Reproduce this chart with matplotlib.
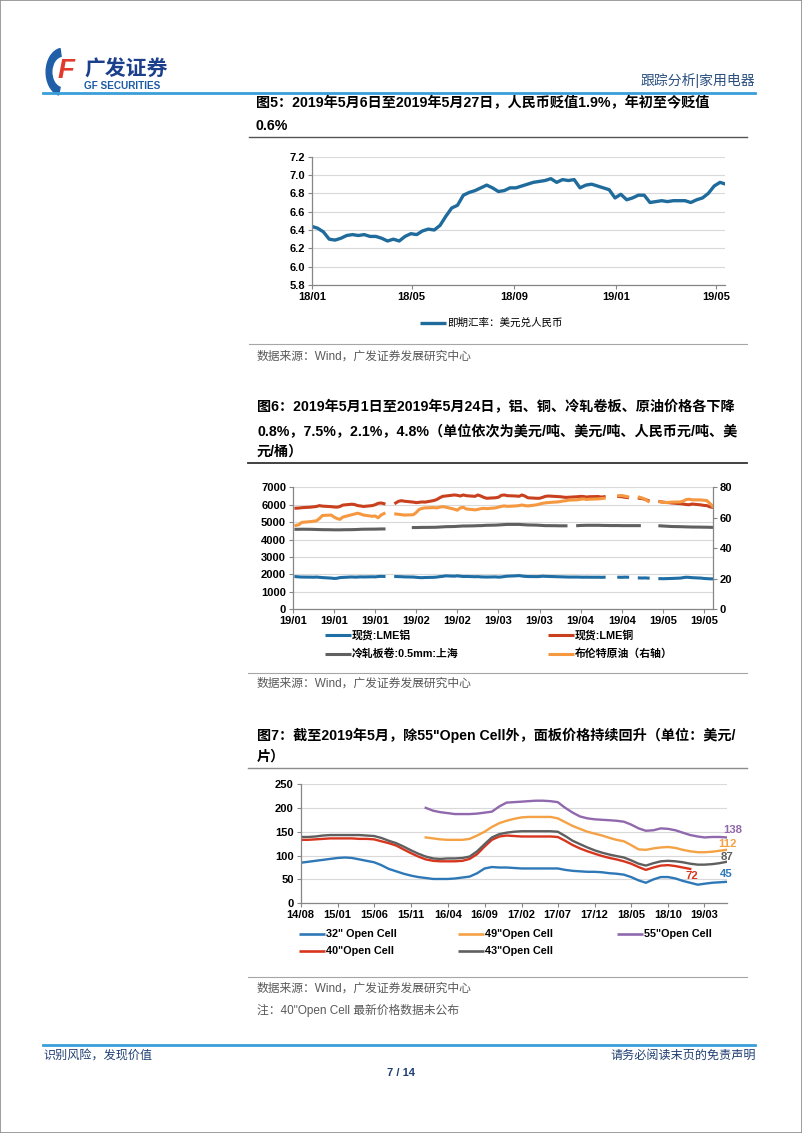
import matplotlib
matplotlib.use('Agg')
import matplotlib.pyplot as plt
import matplotlib.dates as mdates
from matplotlib.lines import Line2D
from matplotlib.patches import Rectangle, Wedge
import numpy as np
import pandas as pd

plt.rcParams['font.family'] = ['Liberation Sans', 'Noto Sans CJK SC', 'DejaVu Sans']
nan = np.nan

# ---------------- data: Fig 5 (USD/CNY spot, weekly readings) ----------------
fx_dates = pd.date_range('2018-01-01', periods=72, freq='7D')
fx_rate = [6.44, 6.42, 6.38, 6.30, 6.29, 6.31, 6.34, 6.35, 6.34, 6.35,
           6.33, 6.33, 6.31, 6.28, 6.30, 6.28, 6.33, 6.36, 6.35, 6.39,
           6.41, 6.40, 6.45, 6.55, 6.64, 6.67, 6.78, 6.81, 6.83, 6.86,
           6.89, 6.86, 6.82, 6.83, 6.86, 6.86, 6.88, 6.90, 6.92, 6.93,
           6.94, 6.96, 6.92, 6.95, 6.94, 6.95, 6.86, 6.89, 6.90, 6.88,
           6.86, 6.84, 6.75, 6.79, 6.73, 6.75, 6.78, 6.78, 6.70, 6.71,
           6.72, 6.71, 6.72, 6.72, 6.72, 6.70, 6.73, 6.75, 6.80, 6.88,
           6.92, 6.90]
fx_ticks = ['2018-01-01', '2018-05-01', '2018-09-01', '2019-01-01', '2019-05-01']

# ---------------- data: Fig 6 (commodities, business days) ----------------
cm_dates = pd.bdate_range('2019-01-02', '2019-05-24')
lme_al = [1875, 1860, 1850,
          1845, 1840, 1850, 1835, 1820,
          1790, 1770, 1780, 1820, 1830,
          1855, 1845, 1850, 1860, 1855,
          1865, 1860, 1880, 1890, 1885,
          nan, 1880, 1875, 1870, 1860,
          1850, 1835, 1820, 1815, 1825,
          1835, 1850, 1875, 1890, 1920,
          1900, 1920, 1900, 1880, 1885,
          1870, 1875, 1860, 1855, 1850,
          1860, 1845, 1855, 1880, 1900,
          1920, 1935, 1910, 1890, 1880,
          1875, 1880, 1900, 1890, 1885,
          1870, 1865, 1860, 1855, 1850,
          1850, 1845, 1840, 1845, 1840,
          1840, 1835, 1840, nan, nan,
          1840, 1835, 1845, 1840, nan,
          1800, 1795, 1800, 1790, nan,
          1760, 1755, 1760, 1765, 1770,
          1790, 1820, 1840, 1830, 1815,
          1790, 1770, 1760, 1750, 1745]
lme_cu = [5800, 5810, 5830,
          5860, 5880, 5900, 5950, 5920,
          5890, 5870, 5860, 5900, 5980,
          6030, 6010, 5950, 5930, 5900,
          5950, 6000, 6080, 6100, 6060,
          nan, 6100, 6200, 6230, 6200,
          6150, 6120, 6140, 6160, 6150,
          6240, 6300, 6400, 6480, 6500,
          6560, 6540, 6500, 6560, 6520,
          6480, 6560, 6500, 6420, 6370,
          6400, 6430, 6540, 6560, 6520,
          6500, 6480, 6560, 6500, 6400,
          6370, 6370, 6420, 6480, 6500,
          6470, 6460, 6440, 6420, 6430,
          6460, 6480, 6470, 6440, 6460,
          6470, 6440, 6460, nan, nan,
          6470, 6460, 6430, 6410, nan,
          6370, 6350, 6300, 6240, nan,
          6180, 6150, 6130, 6120, 6100,
          6060, 6040, 6010, 6000, 6040,
          5990, 5960, 5950, 5880, 5850]
cold_roll = [4590, 4590, 4595,
             4590, 4585, 4580, 4575, 4570,
             4565, 4560, 4560, 4560, 4565,
             4570, 4575, 4580, 4590, 4595,
             4600, 4600, 4605, 4610, 4610,
             nan, nan, nan, nan, nan,
             4690, 4690, 4695, 4700, 4700,
             4705, 4710, 4720, 4730, 4740,
             4750, 4760, 4770, 4780, 4780,
             4790, 4800, 4800, 4810, 4820,
             4830, 4840, 4850, 4860, 4870,
             4870, 4870, 4860, 4850, 4840,
             4830, 4820, 4810, 4800, 4800,
             4795, 4790, 4790, 4790, nan,
             4800, 4810, 4815, 4820, 4820,
             4820, 4815, 4810, 4810, 4805,
             4805, 4800, 4800, 4800, 4800,
             4800, nan, nan, nan, nan,
             4790, 4780, 4770, 4760, 4750,
             4740, 4735, 4730, 4725, 4720,
             4715, 4710, 4710, 4705, 4700]
brent = [55.0, 55.5, 57.0,
         57.5, 57.8, 58.0, 59.5, 61.5,
         61.8, 60.5, 59.5, 59.0, 60.5,
         62.0, 62.5, 63.0, 62.5, 61.8,
         61.0, 61.2, 60.0, 61.8, 62.8,
         nan, 62.5, 62.3, 62.0, 61.8,
         62.0, 63.5, 65.5, 66.2, 66.5,
         66.7, 66.5, 67.0, 67.3, 67.0,
         65.6, 65.0, 66.5, 66.9, 65.8,
         65.2, 65.5, 66.0, 66.2, 66.0,
         66.5, 67.0, 67.5, 67.8, 67.5,
         67.8, 68.0, 68.4, 68.0, 67.8,
         68.5, 69.0, 69.5, 69.8, 70.0,
         70.4, 70.6, 71.0, 71.2, 71.6,
         71.8, 72.2, 72.4, 72.0, 72.2,
         72.4, 72.6, 72.8, nan, nan,
         74.5, 74.6, 74.2, 73.8, nan,
         73.5, 73.0, 72.0, 70.8, nan,
         70.5, 70.2, 70.0, 70.1, 70.3,
         70.4, 71.0, 72.0, 72.2, 71.8,
         71.7, 71.5, 71.3, 69.5, 67.5]
cm_names = ['现货:LME铝', '现货:LME铜', '冷轧板卷:0.5mm:上海', '布伦特原油（右轴）']

# ---------------- data: Fig 7 (panel prices, monthly) ----------------
pn_months = pd.date_range('2014-08-01', periods=59, freq='MS')
p32 = [85, 87, 89, 91, 93, 95, 96, 95, 92, 89,
       86, 80, 72, 67, 62, 58, 55, 53, 51, 51,
       51, 52, 54, 56, 63, 73, 76, 75, 75, 74,
       73, 73, 73, 73, 73, 73, 70, 68, 67, 66,
       66, 65, 63, 62, 60, 55, 48, 43, 50, 55,
       55, 52, 47, 43, 39, 41, 43, 44, 45]
p40 = [133, 133, 134, 135, 136, 136, 136, 136, 135, 135,
       134, 130, 126, 121, 113, 105, 98, 92, 89, 88,
       88, 88, 89, 93, 103, 119, 133, 140, 142, 141,
       140, 140, 140, 140, 140, 139, 131, 122, 115, 109,
       104, 99, 95, 92, 88, 83, 76, 70, 75, 79,
       80, 78, 75, 72, nan, nan, nan, nan, nan]
p43 = [139, 139, 140, 142, 143, 143, 143, 143, 143, 142,
       141, 137, 131, 126, 119, 111, 104, 98, 94, 93,
       94, 94, 95, 98, 109, 124, 138, 145, 148, 150,
       151, 151, 151, 151, 151, 150, 141, 131, 124, 117,
       111, 106, 102, 99, 96, 90, 83, 79, 84, 88,
       89, 88, 86, 83, 81, 81, 82, 84, 87]
p49 = [nan] * 17 + [138, 136, 134, 133, 133, 133, 135, 142, 150, 160,
                    168, 173, 177, 180, 181, 181, 181, 181, 178, 170,
                    162, 156, 150, 146, 142, 137, 133, 130, 122, 113,
                    112, 115, 117, 118, 116, 112, 109, 107, 107, 108,
                    110, 112]
p55 = [nan] * 17 + [200, 194, 191, 189, 187, 187, 187, 188, 190, 192,
                    203, 211, 212, 213, 214, 215, 215, 214, 212, 200,
                    190, 182, 178, 176, 175, 174, 173, 171, 165, 157,
                    152, 153, 157, 156, 153, 148, 143, 140, 138, 139,
                    139, 138]
pn_names = ['32" Open Cell', '49"Open Cell', '55"Open Cell', '40"Open Cell', '43"Open Cell']

# ---------------- figure helpers ----------------
W, H = 802, 1133
fig = plt.figure(figsize=(W / 100, H / 100), dpi=100)
TICK_FS = 8
LEG_FS = 7.8
TITLE_FS = 10.2


def fx(x):
    return x / W


def fy(y):
    return 1 - y / H


def axes_px(l, t, r, b):
    return fig.add_axes([fx(l), fy(b), fx(r - l), (b - t) / H])


def hline(y, x0, x1, color, lw):
    fig.add_artist(Line2D([fx(x0), fx(x1)], [fy(y), fy(y)], color=color, lw=lw))


def txt(x, y, s, **kw):
    kw.setdefault('va', 'center')
    fig.text(fx(x), fy(y), s, **kw)


def legend_item(x, y, color, label, lw=2.2, bold=True, size=LEG_FS, hl=26):
    fig.add_artist(Line2D([fx(x), fx(x + hl)], [fy(y), fy(y)], color=color, lw=lw,
                          solid_capstyle='butt'))
    txt(x + hl + 1, y, label, fontsize=size, fontweight='bold' if bold else 'normal',
        color='black')


def style_axes(ax, spine_col='#868686'):
    for s in ['top', 'right']:
        ax.spines[s].set_visible(False)
    for s in ['left', 'bottom']:
        ax.spines[s].set_color(spine_col)
        ax.spines[s].set_linewidth(0.9)
    ax.grid(axis='y', color='#d9d9d9', lw=0.8)
    ax.set_axisbelow(True)
    ax.tick_params(axis='both', labelsize=TICK_FS, length=3, width=0.8, color=spine_col, pad=2)
    for lab in ax.get_xticklabels() + ax.get_yticklabels():
        lab.set_fontweight('bold')


# page border
fig.add_artist(Rectangle((0, 0), 1, 1, transform=fig.transFigure, fill=False,
                         edgecolor='#8c8c8c', lw=1.2))

# ---------------- header ----------------
fig.add_artist(Wedge((fx(63), fy(72)), 0.021, 100, 255, width=0.007,
                     transform=fig.transFigure, color='#1f5fa8'))
txt(66, 71, 'F', fontsize=20, fontweight='bold', fontstyle='italic', color='#e2392d',
    ha='center', family=['Liberation Sans'])
txt(84, 70, '广发证券', fontsize=15, fontweight='bold', color='#1c3f8c', ha='left')
txt(84, 86, 'GF SECURITIES', fontsize=7.2, fontweight='bold', color='#1c5aa6', ha='left')
txt(755, 81, '跟踪分析|家用电器', fontsize=10, color='#2a4f80', ha='right')
hline(92.5, 43, 755, '#3a9fd8', 2.0)

# ---------------- Fig 5 ----------------
txt(256, 103, '图5：2019年5月6日至2019年5月27日，人民币贬值1.9%，年初至今贬值',
    fontsize=TITLE_FS, fontweight='bold', ha='left')
txt(256, 126, '0.6%', fontsize=TITLE_FS, fontweight='bold', ha='left')
hline(137.5, 249, 747, '#555555', 1.0)

ax1 = axes_px(311.7, 156.7, 725, 285)
ax1.plot(fx_dates, fx_rate, color='#1f6b9c', lw=2.4)
ax1.set_ylim(5.8, 7.2)
ax1.set_yticks(np.arange(5.8, 7.21, 0.2))
ax1.yaxis.set_major_formatter(matplotlib.ticker.FormatStrFormatter('%.1f'))
ax1.set_xlim(fx_dates[0], pd.Timestamp('2019-05-12'))
ax1.set_xticks(pd.to_datetime(fx_ticks))
ax1.xaxis.set_major_formatter(mdates.DateFormatter('%y/%m'))
style_axes(ax1)
legend_item(420, 322.7, '#1f6b9c', '即期汇率：美元兑人民币', lw=2.4, bold=False, size=7.6)
hline(344, 249, 747, '#a6a6a6', 0.8)
txt(257, 357, '数据来源：Wind，广发证券发展研究中心', fontsize=8.5, color='#595959', ha='left')

# ---------------- Fig 6 ----------------
txt(257, 406.7, '图6：2019年5月1日至2019年5月24日，铝、铜、冷轧卷板、原油价格各下降',
    fontsize=TITLE_FS, fontweight='bold', ha='left')
txt(257, 431.7, '0.8%，7.5%，2.1%，4.8%（单位依次为美元/吨、美元/吨、人民币元/吨、美',
    fontsize=TITLE_FS, fontweight='bold', ha='left')
txt(257, 451.7, '元/桶）', fontsize=TITLE_FS, fontweight='bold', ha='left')
hline(463, 248, 747, '#333333', 1.3)

ax2 = axes_px(293, 487.3, 712.7, 609.3)
c_al, c_cu, c_cr, c_br = '#1f6ea5', '#c8401e', '#606060', '#f59840'
ax2.plot(cm_dates, lme_al, color=c_al, lw=2.2)
ax2.plot(cm_dates, lme_cu, color=c_cu, lw=2.2)
ax2.plot(cm_dates, cold_roll, color=c_cr, lw=2.2)
ax2.set_ylim(0, 7000)
ax2.set_yticks(range(0, 7001, 1000))
x0, x1 = pd.Timestamp('2019-01-01'), pd.Timestamp('2019-05-24')
ax2.set_xlim(x0, x1)
ax2.set_xticks(pd.date_range(x0, periods=11, freq='14D'))
ax2.xaxis.set_major_formatter(mdates.DateFormatter('%y/%m'))
style_axes(ax2)
ax2r = ax2.twinx()
ax2r.plot(cm_dates, brent, color=c_br, lw=2.2)
ax2r.set_ylim(0, 80)
ax2r.set_yticks(range(0, 81, 20))
for s in ['top', 'left', 'bottom']:
    ax2r.spines[s].set_visible(False)
ax2r.spines['right'].set_color('#868686')
ax2r.spines['right'].set_linewidth(0.9)
ax2r.tick_params(axis='y', labelsize=TICK_FS, length=3, width=0.8, color='#868686', pad=2)
for lab in ax2r.get_yticklabels():
    lab.set_fontweight('bold')
legend_item(325, 635, c_al, cm_names[0])
legend_item(548, 635, c_cu, cm_names[1])
legend_item(325, 654, c_cr, cm_names[2])
legend_item(548, 654, c_br, cm_names[3])
hline(672.7, 248, 747, '#a6a6a6', 0.8)
txt(257, 683.3, '数据来源：Wind，广发证券发展研究中心', fontsize=8.5, color='#595959', ha='left')

# ---------------- Fig 7 ----------------
txt(257, 735, '图7：截至2019年5月，除55"Open Cell外，面板价格持续回升（单位：美元/',
    fontsize=TITLE_FS, fontweight='bold', ha='left')
txt(257, 756.7, '片）', fontsize=TITLE_FS, fontweight='bold', ha='left')
hline(767.7, 248, 747, '#8c8c8c', 1.0)

ax3 = axes_px(300.7, 784, 726.7, 903.3)
cols3 = ['#2e78b7', '#f5a145', '#9068ad', '#d8351e', '#5f5f5f']
series3 = [p32, p49, p55, p40, p43]
for vals, c in zip(series3, cols3):
    ax3.plot(pn_months, vals, color=c, lw=1.7)
ax3.set_ylim(0, 250)
ax3.set_yticks(range(0, 251, 50))
ax3.set_xlim(pn_months[0], pn_months[-1])
ax3.set_xticks(pn_months[::5])
ax3.xaxis.set_major_formatter(mdates.DateFormatter('%y/%m'))
style_axes(ax3)
# end labels
end_labels = [(p55, cols3[2], 58, 4, 5.5), (p49, cols3[1], 58, 0.5, 4),
              (p43, cols3[4], 58, 0, 3.6), (p32, cols3[0], 58, 0, 5.6),
              (p40, cols3[3], 53, 1.2, -4.9)]
for vals, c, i, dx, dy in end_labels:
    v = vals[i]
    ax3.annotate(f'{v:.0f}', (pn_months[i], v), xytext=(dx, dy), textcoords='offset points',
                 ha='center', va='center', fontsize=8.2, fontweight='bold', color=c,
                 annotation_clip=False)
legend_item(299, 934, cols3[0], pn_names[0], lw=1.9)
legend_item(458, 934, cols3[1], pn_names[1], lw=1.9)
legend_item(617, 934, cols3[2], pn_names[2], lw=1.9)
legend_item(299, 951.3, cols3[3], pn_names[3], lw=1.9)
legend_item(458, 951.3, cols3[4], pn_names[4], lw=1.9)
hline(977.3, 248, 747, '#a6a6a6', 0.8)
txt(257, 988.3, '数据来源：Wind，广发证券发展研究中心', fontsize=8.5, color='#595959', ha='left')
txt(257, 1010, '注：40"Open Cell 最新价格数据未公布', fontsize=8.5, color='#595959', ha='left')

# ---------------- footer ----------------
hline(1045, 43, 755, '#3a9fd8', 2.0)
txt(43, 1056, '识别风险，发现价值', fontsize=8.7, color='#1f3f73', ha='left')
txt(756, 1056, '请务必阅读末页的免责声明', fontsize=8.7, color='#1f3f73', ha='right')
txt(401, 1073, '7 / 14', fontsize=8, fontweight='bold', color='#1f3f73', ha='center')

fig.savefig('out.png', dpi=100)
